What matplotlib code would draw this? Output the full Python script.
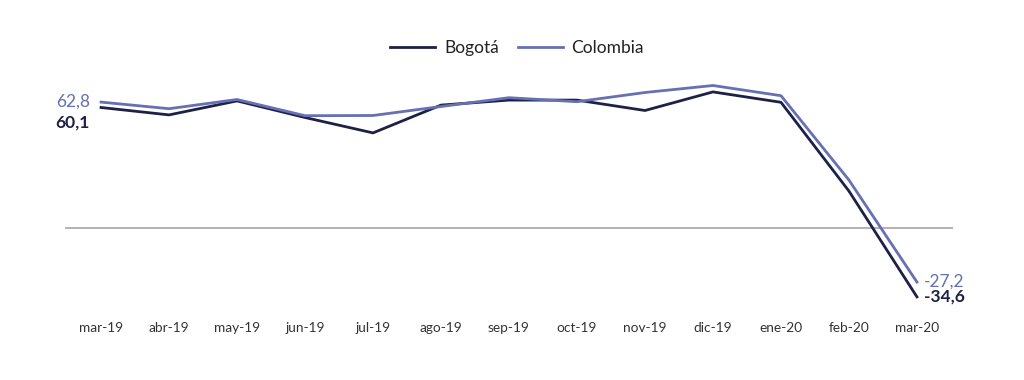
import matplotlib.pyplot as plt

meses = ['mar-19', 'abr-19', 'may-19', 'jun-19', 'jul-19', 'ago-19', 'sep-19',
         'oct-19', 'nov-19', 'dic-19', 'ene-20', 'feb-20', 'mar-20']
bogota = [60.1, 56.4, 63.4, 55.1, 47.4, 61.3, 63.8, 63.8, 58.6, 67.9, 62.7, 18.3, -34.6]
colombia = [62.8, 59.5, 64.1, 56.0, 56.1, 60.6, 65.0, 63.0, 67.6, 71.1, 66.0, 23.8, -27.2]

c_bog = '#1e2146'
c_col = '#6670b4'

plt.rcParams['font.family'] = ['Lato', 'DejaVu Sans']

fig = plt.figure(figsize=(10.24, 3.8), dpi=100)
ax = fig.add_axes([65/1024, 70/380, 888/1024, 250/380])

x = range(len(meses))
ax.plot(x, bogota, color=c_bog, lw=2, label='Bogotá')
ax.plot(x, colombia, color=c_col, lw=2, label='Colombia')
ax.axhline(0, color='#a6a6a6', lw=1.2, zorder=0)

ax.set_xlim(-0.53, len(meses) - 1 + 0.53)
ax.set_ylim(-41.15, 83.85)
ax.set_xticks(list(x))
ax.set_xticklabels(meses, fontsize=9.8, color='#333333')
ax.tick_params(axis='x', length=0, pad=9)
ax.set_yticks([])
for s in ax.spines.values():
    s.set_visible(False)

# etiquetas de inicio y fin
fs = 12.5
ax.annotate(f'{colombia[0]:.1f}'.replace('.', ','), (0, colombia[0]), xytext=(-8, 0),
            textcoords='offset points', ha='right', va='center', fontsize=fs, color=c_col)
ax.annotate(f'{bogota[0]:.1f}'.replace('.', ','), (0, bogota[0]), xytext=(-8, -11),
            textcoords='offset points', ha='right', va='center', fontsize=fs, color=c_bog,
            fontweight='bold')
ax.annotate(f'{colombia[-1]:.1f}'.replace('.', ','), (12, colombia[-1]), xytext=(5, 0),
            textcoords='offset points', ha='left', va='center', fontsize=fs, color=c_col)
ax.annotate(f'{bogota[-1]:.1f}'.replace('.', ','), (12, bogota[-1]), xytext=(5, 0),
            textcoords='offset points', ha='left', va='center', fontsize=fs, color=c_bog,
            fontweight='bold')

fig.legend(loc='center', bbox_to_anchor=(0.505, 1 - 48/380), ncol=2, frameon=False,
           fontsize=12.5, handlelength=2.6, handletextpad=0.5, columnspacing=1.1)
for t in fig.legends[0].get_texts():
    t.set_color('#222222')

fig.savefig('out.png', dpi=100)
